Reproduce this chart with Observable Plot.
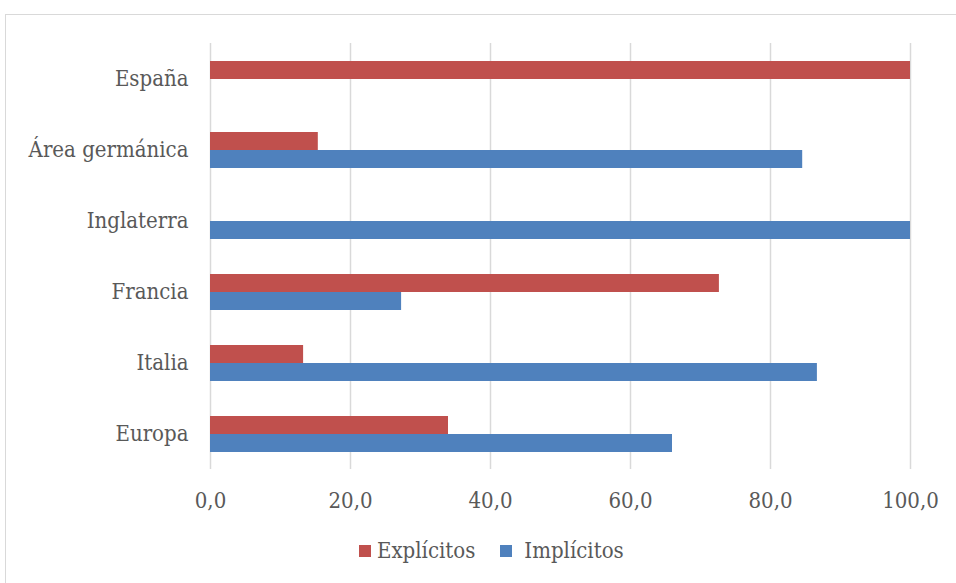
<!DOCTYPE html>
<html>
<head>
<meta charset="utf-8">
<script src="https://cdn.jsdelivr.net/npm/d3@7"></script>
<script src="https://cdn.jsdelivr.net/npm/@observablehq/plot@0.6"></script>
<style>
  html, body { margin: 0; padding: 0; background: #fff; }
  #wrap { position: relative; width: 956px; height: 583px; overflow: hidden; }
  #frame { position: absolute; left: 5px; top: 14px; width: 1000px; height: 1000px; border: 1px solid #d9d9d9; box-sizing: border-box; }
  #chart { position: absolute; left: 0; top: 0; }
  #chart svg text { font-stretch: condensed; }
  #legend { position: absolute; top: 538px; left: 359px; display: flex; gap: 25px;
            font-family: "DejaVu Serif", serif; font-stretch: condensed; font-size: 22px; color: #595959; }
  .item { display: flex; align-items: center; gap: 6px; }
  .item + .item { gap: 12px; }
  .sw { width: 12px; height: 12px; display: inline-block; }
</style>
</head>
<body>
<div id="wrap">
  <div id="frame"></div>
  <div id="chart"></div>
  <div id="legend"></div>
</div>
<script>
const categories = ["España", "Área germánica", "Inglaterra", "Francia", "Italia", "Europa"];
const series = ["Explícitos", "Implícitos"];
const explicitos = [100, 15.4, 0, 72.7, 13.3, 34.0];
const implicitos = [0, 84.6, 100, 27.3, 86.7, 66.0];
const xTicks = [0, 20, 40, 60, 80, 100];
const colors = ["#C0504D", "#4F81BD"];

const data = categories.flatMap((c, i) => [
  {cat: c, serie: series[0], v: explicitos[i]},
  {cat: c, serie: series[1], v: implicitos[i]}
]);

const fmt = d => d3.format(".1f")(d).replace(".", ",");

const chart = Plot.plot({
  width: 956,
  height: 530,
  marginLeft: 210,
  marginRight: 46,
  marginTop: 43,
  marginBottom: 61,
  style: {fontFamily: "DejaVu Serif, serif", fontSize: "22px", color: "#595959", background: "transparent"},
  x: {domain: [0, 100], ticks: xTicks, tickFormat: fmt, tickSize: 0, tickPadding: 23, label: null},
  fy: {domain: categories, padding: 0, tickSize: 0, tickPadding: 22, label: null},
  y: {domain: series, paddingInner: 0, paddingOuter: 0.94, axis: null},
  color: {domain: series, range: colors},
  marks: [
    Plot.ruleX(xTicks, {stroke: "#d9d9d9", strokeWidth: 1.5}),
    Plot.barX(data, {x: "v", y: "serie", fy: "cat", fill: "serie"})
  ]
});
document.getElementById("chart").appendChild(chart);

const legend = document.getElementById("legend");
series.forEach((s, i) => {
  const it = document.createElement("div");
  it.className = "item";
  const sw = document.createElement("span");
  sw.className = "sw";
  sw.style.background = colors[i];
  const t = document.createElement("span");
  t.textContent = s;
  it.appendChild(sw);
  it.appendChild(t);
  legend.appendChild(it);
});
</script>
</body>
</html>
